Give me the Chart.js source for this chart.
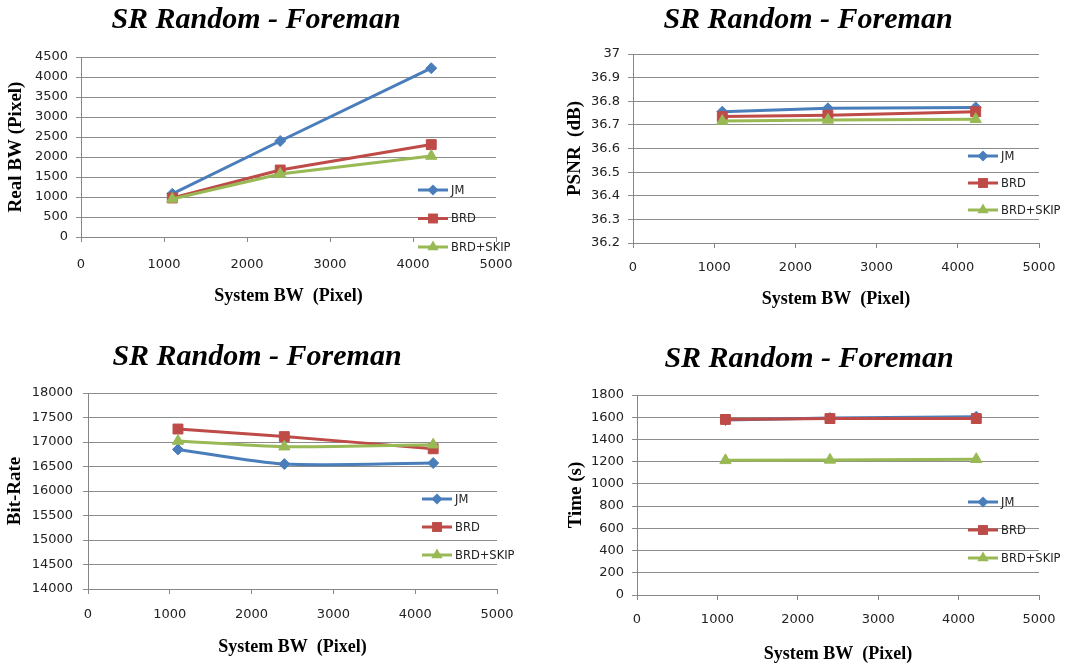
<!DOCTYPE html>
<html>
<head>
<meta charset="utf-8">
<script src="https://cdn.jsdelivr.net/npm/chart.js@4.4.0/dist/chart.umd.min.js"></script>
<style>
    html, body { margin: 0; padding: 0; background: #fff; }
    #wrap { position: relative; width: 1080px; height: 666px; overflow: hidden; }
    .cell { position: absolute; width: 540px; height: 333px; }
</style>
</head>
<body>
<div id="wrap">
    <div class="cell" style="left:0;top:0"><canvas id="c1" width="540" height="333"></canvas></div>
    <div class="cell" style="left:540px;top:0"><canvas id="c2" width="540" height="333"></canvas></div>
    <div class="cell" style="left:0;top:333px"><canvas id="c3" width="540" height="333"></canvas></div>
    <div class="cell" style="left:540px;top:333px"><canvas id="c4" width="540" height="333"></canvas></div>
</div>
<script>
// Datos
const systemBW = [1100, 2400, 4220];
const seriesNames = ['JM', 'BRD', 'BRD+SKIP'];

const realBW_JM   = [1080, 2400, 4220];
const realBW_BRD  = [975, 1675, 2310];
const realBW_SKIP = [950, 1575, 2025];

const psnr_JM   = [36.756, 36.770, 36.774];
const psnr_BRD  = [36.735, 36.741, 36.756];
const psnr_SKIP = [36.716, 36.721, 36.724];

const bitrate_JM   = [16848, 16550, 16570];
const bitrate_BRD  = [17265, 17110, 16862];
const bitrate_SKIP = [17020, 16905, 16945];

const time_JM   = [1575, 1592, 1605];
const time_BRD  = [1580, 1588, 1588];
const time_SKIP = [1212, 1216, 1222];

const chartTitle = 'SR Random - Foreman';
const xTitle = 'System BW  (Pixel)';

const seriesColors = ['#4a7ebb', '#be4b48', '#98b954'];
const pointStyles = ['rectRot', 'rect', 'triangle'];
const pointRadii = [5.5, 7, 6.5];

// Título y leyenda dibujados encima del gráfico
const overlayPlugin = {
    id: 'overlay',
    afterDraw(chart, args, opts) {
        const ctx = chart.ctx;
        ctx.save();
        ctx.fillStyle = '#000';
        ctx.font = 'italic bold 30px "Liberation Serif"';
        ctx.textAlign = 'center';
        ctx.textBaseline = 'middle';
        ctx.fillText(opts.title, opts.titleX, opts.titleY);

        ctx.font = '11.5px "DejaVu Sans"';
        ctx.textAlign = 'left';
        chart.data.datasets.forEach((ds, i) => {
            const y = opts.legendY + i * opts.legendGap;
            const x0 = opts.legendX;
            ctx.strokeStyle = ds.borderColor;
            ctx.lineWidth = 3;
            ctx.beginPath();
            ctx.moveTo(x0, y);
            ctx.lineTo(x0 + 30, y);
            ctx.stroke();
            const cx = x0 + 15;
            const r = ds.pointRadius;
            ctx.fillStyle = ds.backgroundColor;
            ctx.beginPath();
            if (ds.pointStyle === 'rectRot') {
                ctx.moveTo(cx - r, y); ctx.lineTo(cx, y - r); ctx.lineTo(cx + r, y); ctx.lineTo(cx, y + r);
            } else if (ds.pointStyle === 'rect') {
                const s = r * Math.SQRT1_2;
                ctx.rect(cx - s, y - s, 2 * s, 2 * s);
            } else {
                ctx.moveTo(cx, y - r);
                ctx.lineTo(cx + r * Math.sin(2 * Math.PI / 3), y - r * Math.cos(2 * Math.PI / 3));
                ctx.lineTo(cx + r * Math.sin(4 * Math.PI / 3), y - r * Math.cos(4 * Math.PI / 3));
            }
            ctx.closePath();
            ctx.fill();
            ctx.fillStyle = '#222';
            ctx.fillText(ds.label, x0 + 33, y + 1);
        });
        ctx.restore();
    }
};

function fmt(v) {
    return String(Math.round(v * 10) / 10);
}

function crearGrafica(id, p) {
    const datasets = p.series.map((vals, i) => ({
        label: seriesNames[i],
        data: systemBW.map((x, j) => ({ x: x, y: vals[j] })),
        borderColor: seriesColors[i],
        backgroundColor: seriesColors[i],
        borderWidth: 3,
        pointStyle: pointStyles[i],
        pointRadius: pointRadii[i],
        pointHoverRadius: pointRadii[i],
        pointBorderWidth: 1,
        pointBorderColor: seriesColors[i],
        tension: p.tension || 0,
        order: 2 - i
    }));

    new Chart(document.getElementById(id), {
        type: 'line',
        data: { datasets: datasets },
        plugins: [overlayPlugin],
        options: {
            responsive: false,
            animation: false,
            layout: { padding: { left: 0, top: p.top, right: 540 - p.right, bottom: 0 } },
            plugins: {
                legend: { display: false },
                tooltip: { enabled: false },
                overlay: {
                    title: chartTitle, titleX: p.titleX, titleY: p.titleY,
                    legendX: p.legendX, legendY: p.legendY, legendGap: p.legendGap
                }
            },
            scales: {
                x: {
                    type: 'linear',
                    min: 0, max: 5000,
                    afterFit: s => { s.height = 333 - p.bottom; },
                    ticks: {
                        stepSize: 1000, padding: p.xPad, color: '#222',
                        font: { family: 'DejaVu Sans', size: 13 },
                        callback: fmt
                    },
                    grid: { drawOnChartArea: false, drawTicks: true, tickLength: 5, color: '#868686' },
                    border: { color: '#868686', width: 1 },
                    title: {
                        display: true, text: xTitle, color: '#000',
                        font: { family: 'Liberation Serif', size: 18, weight: 'bold' },
                        padding: { top: 0, bottom: p.xTitlePad }
                    }
                },
                y: {
                    min: p.yMin, max: p.yMax,
                    afterFit: s => { s.width = p.left; },
                    ticks: {
                        stepSize: p.yStep, padding: p.yPad, color: '#222',
                        font: { family: 'DejaVu Sans', size: 13 },
                        callback: fmt
                    },
                    grid: { color: '#8c8c8c', lineWidth: 1, tickLength: 5 },
                    border: { color: '#868686', width: 1 },
                    title: {
                        display: true, text: p.yTitle, color: '#000',
                        font: { family: 'Liberation Serif', size: 19, weight: 'bold' },
                        padding: { top: p.yTitlePad, bottom: 0 }
                    }
                }
            }
        }
    });
}

crearGrafica('c1', {
    series: [realBW_JM, realBW_BRD, realBW_SKIP],
    yMin: 0, yMax: 4500, yStep: 500, yTitle: 'Real BW (Pixel)',
    left: 81, right: 496, top: 57, bottom: 237,
    xPad: 15, yPad: 8, xTitlePad: 26, yTitlePad: 5,
    titleX: 256, titleY: 20,
    legendX: 418, legendY: 190, legendGap: 28.5
});

crearGrafica('c2', {
    series: [psnr_JM, psnr_BRD, psnr_SKIP],
    yMin: 36.2, yMax: 37, yStep: 0.1, yTitle: 'PSNR  (dB)',
    left: 93, right: 499, top: 54, bottom: 243,
    xPad: 12, yPad: 8, xTitlePad: 23, yTitlePad: 24,
    titleX: 268, titleY: 20,
    legendX: 428, legendY: 156, legendGap: 27
});

crearGrafica('c3', {
    series: [bitrate_JM, bitrate_BRD, bitrate_SKIP],
    yMin: 14000, yMax: 18000, yStep: 500, yTitle: 'Bit-Rate',
    left: 88, right: 497, top: 60, bottom: 256,
    xPad: 13, yPad: 10, xTitlePad: 8, yTitlePad: 4,
    titleX: 257, titleY: 24, tension: 0.25,
    legendX: 422, legendY: 166, legendGap: 28
});

crearGrafica('c4', {
    series: [time_JM, time_BRD, time_SKIP],
    yMin: 0, yMax: 1800, yStep: 200, yTitle: 'Time (s)',
    left: 97, right: 499, top: 62, bottom: 262,
    xPad: 12, yPad: 8, xTitlePad: 1, yTitlePad: 25,
    titleX: 269, titleY: 26,
    legendX: 428, legendY: 169, legendGap: 28
});
</script>
</body>
</html>
